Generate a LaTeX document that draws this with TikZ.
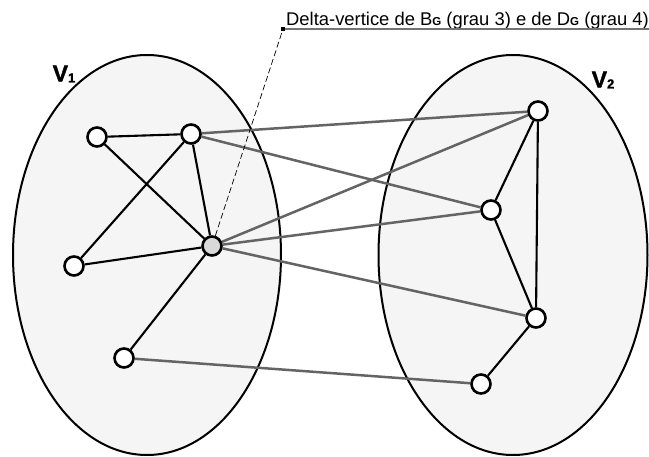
\documentclass[tikz,border=0pt]{standalone}
\usepackage{fontspec}
\setmainfont{Liberation Sans}
\newfontfamily\heavyfont{Liberation Sans}[BoldFeatures={FakeBold=1.5}]
\usetikzlibrary{positioning, backgrounds}
\definecolor{setfill}{RGB}{245,245,245}
\definecolor{crossgray}{RGB}{100,100,100}

\begin{document}
\begin{tikzpicture}[
    x=1pt, y=-1pt,
    vset/.style={draw, line width=2pt, fill=setfill},
    vtx/.style={circle, draw, line width=2.6pt, fill=white, minimum size=19pt, inner sep=0pt},
    inner/.style={line width=2.1pt},
    cross/.style={line width=2.5pt, crossgray},
    setlabel/.style={font=\heavyfont\bfseries\fontsize{23}{23}\selectfont}
]
\useasboundingbox (0,0) rectangle (649,457);

% vertices
\node[vtx] (a) at (97,137) {};
\node[vtx] (b) at (191,134) {};
\node[vtx, fill=black!15] (c) at (212,246) {};
\node[vtx] (d) at (74,266) {};
\node[vtx] (e) at (124,358) {};
\node[vtx] (f) at (538,111) {};
\node[vtx] (g) at (491,210) {};
\node[vtx] (h) at (536,318) {};
\node[vtx] (i) at (481,384) {};

\begin{scope}[on background layer]
% the two sets
\draw[vset] (147,255) ellipse (134 and 200);
\draw[vset] (513,255) ellipse (134.5 and 200);
% edges between sets
\draw[cross] (b) -- (f);
\draw[cross] (b) -- (g);
\draw[cross] (c) -- (f);
\draw[cross] (c) -- (g);
\draw[cross] (c) -- (h);
\draw[cross] (e) -- (i);
% edges inside sets
\draw[inner] (a) -- (b);
\draw[inner] (a) -- (c);
\draw[inner] (b) -- (d);
\draw[inner] (b) -- (c);
\draw[inner] (c) -- (d);
\draw[inner] (c) -- (e);
\draw[inner] (f) -- (g);
\draw[inner] (f) -- (h);
\draw[inner] (g) -- (h);
\draw[inner] (h) -- (i);
\end{scope}

\node[setlabel] (V1) at (64,74) {V{\fontsize{13}{13}\selectfont\raisebox{-1pt}{1}}};
\node[setlabel] (V2) at (603,80) {V{\fontsize{13}{13}\selectfont\raisebox{-1pt}{2}}};

% annotation
\coordinate (tip) at (283,29);
\node[anchor=base west, inner sep=0pt, font=\fontsize{18.4}{18.4}\selectfont] (lbl) at (286,26)
  {Delta-vertice de B{\fontsize{11.5}{11.5}\selectfont\bfseries G} (grau 3) e de D{\fontsize{11.5}{11.5}\selectfont\bfseries G} (grau 4)};
\draw[dashed, line width=0.7pt, dash pattern=on 6pt off 3pt] (c) -- (tip);
\draw[line width=1.2pt, black!55] (tip) -- (lbl.south east |- tip);
\fill (tip) +(-2.2,-2.2) rectangle +(2.2,2.2);
\end{tikzpicture}
\end{document}
